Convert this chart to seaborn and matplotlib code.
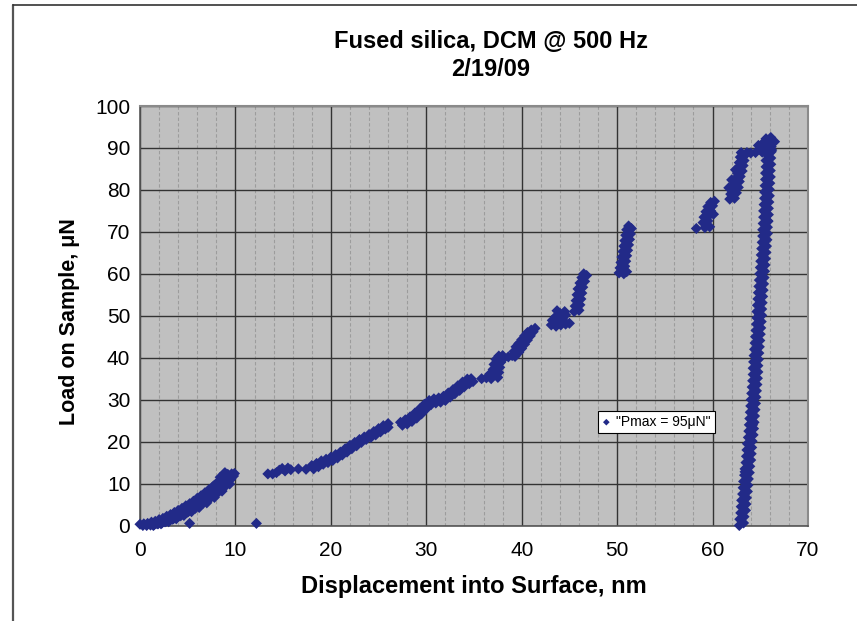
import matplotlib
matplotlib.use("Agg")
import matplotlib.pyplot as plt
from matplotlib.lines import Line2D
import seaborn as sns
import pandas as pd

# ---------------- data ----------------
title_line1 = "Fused silica, DCM @ 500 Hz"
title_line2 = "2/19/09"
x_label = "Displacement into Surface, nm"
y_label = "Load on Sample, \u03bcN"
series_label = '"Pmax = 95\u03bcN"'
x_ticks = [0, 10, 20, 30, 40, 50, 60, 70]
y_ticks = [0, 10, 20, 30, 40, 50, 60, 70, 80, 90, 100]

# loading, first ramp 0-10 nm
seg_a_x = [0.0, 0.4, 0.8, 1.2, 1.6, 2.0, 2.4, 2.8, 3.2, 3.6, 4.0, 4.4, 4.8, 5.2, 5.6, 6.0, 6.4, 6.8, 7.2, 7.6,
           8.0, 8.4, 8.8, 9.2, 9.6,
           0.3, 0.7, 1.1, 1.5, 1.9, 2.3, 2.7, 3.1, 3.5, 3.9, 4.3, 4.7, 5.1, 5.5, 5.9, 6.3, 6.7, 7.1, 7.5,
           7.9, 8.3, 8.7, 9.1, 9.5, 9.8,
           1.4, 2.2, 3.0, 3.8, 4.6, 5.4, 6.2, 7.0, 7.8, 8.6, 9.4,
           1.8, 2.6, 3.4, 4.2, 5.0, 5.8, 6.6, 7.4, 8.2, 9.0,
           8.4, 8.8, 9.0, 9.4, 9.7, 8.6, 7.8, 7.4, 6.6, 8.9, 9.9, 5.2, 12.2]
seg_a_y = [0.3, 0.4, 0.5, 0.8, 1.0, 1.4, 1.7, 2.2, 2.6, 3.1, 3.6, 4.1, 4.7, 5.2, 5.8, 6.5, 7.1, 7.8, 8.5, 9.2,
           10.0, 10.8, 11.6, 12.2, 12.3,
           0.0, 0.0, 0.1, 0.2, 0.4, 0.6, 0.9, 1.2, 1.6, 2.0, 2.4, 2.9, 3.4, 3.9, 4.5, 5.1, 5.7, 6.4, 7.1,
           7.8, 8.6, 9.4, 10.2, 11.0, 11.8,
           0.0, 0.4, 0.9, 1.6, 2.4, 3.3, 4.3, 5.4, 6.7, 8.2, 9.9,
           0.4, 0.9, 1.5, 2.3, 3.2, 4.1, 5.3, 6.6, 7.9, 9.5,
           11.5, 12.3, 11.0, 11.5, 12.0, 10.2, 9.6, 8.0, 6.4, 12.6, 12.4, 0.5, 0.5]

# short plateau 13-17.5 nm
seg_b_x = [13.4, 13.9, 14.3, 14.6, 14.9, 15.2, 15.5, 15.8, 16.6, 17.4]
seg_b_y = [12.3, 12.3, 12.6, 13.2, 13.6, 13.0, 13.7, 13.3, 13.5, 13.4]

# ramp 18-26 nm
seg_c_x = [18.0, 18.5, 19.0, 19.5, 20.0, 20.5, 21.0, 21.5, 22.0, 22.5, 23.0, 23.5, 24.0, 24.5, 25.0, 25.5, 26.0,
           18.2, 18.7, 19.2, 19.7, 20.2, 20.7, 21.2, 21.7, 22.2, 22.7, 23.2, 23.7, 24.2, 24.7, 25.2, 25.7, 26.0]
seg_c_y = [14.3, 14.8, 15.4, 15.8, 16.3, 16.9, 17.5, 18.3, 19.1, 19.8, 20.5, 21.1, 21.7, 22.4, 23.1, 23.8, 24.3,
           13.5, 14.0, 14.6, 15.0, 15.5, 16.1, 16.8, 17.5, 18.3, 19.0, 19.8, 20.5, 21.0, 21.6, 22.3, 23.0, 23.4]

# ramp 27-35 nm
seg_d_x = [27.3, 27.8, 28.3, 28.8, 29.3, 29.8, 30.3, 30.8, 31.3, 31.8, 32.3, 32.8, 33.3, 33.8, 34.3, 34.7,
           27.5, 28.0, 28.5, 29.0, 29.5, 30.0, 30.5, 31.0, 31.5, 32.0, 32.5, 33.0, 33.5, 34.0, 34.5, 34.9]
seg_d_y = [24.6, 25.2, 25.9, 26.8, 27.8, 28.9, 29.8, 30.2, 30.4, 30.8, 31.6, 32.4, 33.3, 34.2, 34.9, 35.0,
           23.9, 24.2, 24.8, 25.6, 26.6, 27.8, 28.8, 29.2, 29.4, 29.8, 30.6, 31.4, 32.2, 33.1, 33.8, 34.3]

# steps 36-47 nm
seg_e_x = [35.8, 36.3, 36.8, 37.0, 37.0, 37.1, 37.3, 37.6, 38.0, 37.5, 37.6, 37.7, 37.8, 38.1, 36.7,
           38.6, 39.0, 39.2, 39.4, 39.7, 40.0, 40.3, 40.6, 41.0, 41.4, 39.7, 40.0, 40.3, 40.6, 40.9, 41.2, 39.3,
           43.1, 43.6, 44.1, 44.6, 43.2, 43.6, 44.0, 43.7, 44.3, 44.6, 44.0, 44.5, 45.0]
seg_e_y = [35.0, 35.2, 35.0, 36.0, 37.2, 38.4, 39.6, 40.4, 40.5, 35.3, 36.5, 37.7, 38.9, 39.8, 36.2,
           40.2, 40.5, 41.5, 42.6, 43.4, 44.3, 45.2, 46.0, 46.6, 47.0, 41.3, 42.2, 43.2, 44.2, 45.2, 46.2, 40.3,
           47.8, 47.5, 47.8, 48.0, 48.9, 49.9, 50.6, 51.2, 49.2, 50.2, 48.6, 51.0, 48.2]

# steps 45-64 nm
seg_f_x = [45.5, 46.0, 45.6, 46.1, 45.7, 46.2, 45.8, 46.3, 45.9, 46.4, 46.1, 46.6, 46.3, 46.8, 46.5,
           50.2, 50.7, 51.0, 50.3, 50.8, 50.4, 50.9, 50.5, 51.0, 50.6, 51.1, 50.7, 51.2, 50.8, 51.3, 50.9,
           51.4, 51.0, 51.5, 51.2,
           58.3, 59.2, 59.7, 59.0, 59.5, 59.1, 59.6, 59.3, 59.8, 59.5, 60.0, 59.8, 60.2, 60.1,
           61.8, 62.3, 61.9, 62.5, 62.1, 62.7, 62.3, 62.8, 62.4, 62.9, 62.6, 63.1, 62.7, 63.2, 62.8, 63.3,
           62.9, 63.4, 63.0, 63.6, 62.0, 61.7, 62.4]
seg_f_y = [51.0, 51.3, 52.3, 52.6, 53.6, 54.0, 55.0, 55.4, 56.4, 56.8, 57.8, 58.2, 59.1, 59.6, 60.0,
           60.2, 60.0, 60.5, 61.4, 61.8, 62.7, 63.0, 64.0, 64.3, 65.3, 65.6, 66.6, 66.9, 67.9, 68.2, 69.2,
           69.5, 70.5, 70.8, 71.4,
           70.8, 71.0, 71.2, 72.2, 72.6, 73.5, 73.8, 74.8, 75.0, 76.0, 76.2, 77.0, 77.3, 74.2,
           77.8, 78.0, 79.0, 79.3, 80.2, 80.6, 81.4, 82.0, 82.7, 83.2, 84.0, 84.5, 85.2, 85.8, 86.5, 87.0,
           87.8, 88.3, 88.9, 88.9, 82.4, 80.5, 84.8]

# hold at peak load
seg_g_x = [64.0, 64.5, 65.0, 64.8, 65.3, 65.6, 66.1, 66.5, 65.9, 65.2, 66.2]
seg_g_y = [88.8, 88.9, 89.6, 90.6, 91.2, 92.2, 92.5, 91.5, 91.0, 89.0, 89.5]

# unloading 66 -> 63 nm
seg_h_x = [62.80, 63.25, 62.85, 63.30, 62.95, 63.45, 63.00, 63.50, 63.05, 63.55, 63.15, 63.65, 63.20, 63.70,
           63.25, 63.75, 63.35, 63.85, 63.40, 63.90, 63.50, 64.00, 63.55, 64.05, 63.60, 64.10, 63.65, 64.15,
           63.75, 64.25, 63.80, 64.30, 63.85, 64.35, 63.90, 64.40, 63.95, 64.45, 64.00, 64.50, 64.05, 64.55,
           64.10, 64.60, 64.15, 64.65, 64.20, 64.70, 64.25, 64.75, 64.25, 64.75, 64.30, 64.80, 64.35, 64.85,
           64.40, 64.90, 64.45, 64.95, 64.50, 65.00, 64.55, 65.05, 64.60, 65.10, 64.65, 65.15, 64.65, 65.15,
           64.70, 65.20, 64.75, 65.25, 64.80, 65.30, 64.85, 65.35, 64.90, 65.40, 64.95, 65.45, 65.00, 65.50,
           65.05, 65.55, 65.10, 65.60, 65.15, 65.65, 65.20, 65.70, 65.25, 65.75, 65.25, 65.75, 65.30, 65.80,
           65.35, 65.85, 65.35, 65.85, 65.40, 65.90, 65.45, 65.95, 65.45, 65.95, 65.50, 66.00, 65.55, 66.05,
           65.55, 66.05, 65.60, 66.10, 65.60, 66.10, 65.65, 66.15, 65.65, 66.15, 64.90, 65.80, 64.20, 63.40]
seg_h_y = [0.0, 0.6, 1.5, 2.1, 3.0, 3.6, 4.5, 5.1, 6.0, 6.6, 7.5, 8.1, 9.0, 9.6,
           10.5, 11.1, 12.0, 12.6, 13.5, 14.1, 15.0, 15.6, 16.5, 17.1, 18.0, 18.6, 19.5, 20.1,
           21.0, 21.6, 22.5, 23.1, 24.0, 24.6, 25.5, 26.1, 27.0, 27.6, 28.5, 29.1, 30.0, 30.6,
           31.5, 32.1, 33.0, 33.6, 34.5, 35.1, 36.0, 36.6, 37.5, 38.1, 39.0, 39.6, 40.5, 41.1,
           42.0, 42.6, 43.5, 44.1, 45.0, 45.6, 46.5, 47.1, 48.0, 48.6, 49.5, 50.1, 51.0, 51.6,
           52.5, 53.1, 54.0, 54.6, 55.5, 56.1, 57.0, 57.6, 58.5, 59.1, 60.0, 60.6, 61.5, 62.1,
           63.0, 63.6, 64.5, 65.1, 66.0, 66.6, 67.5, 68.1, 69.0, 69.6, 70.5, 71.1, 72.0, 72.6,
           73.5, 74.1, 75.0, 75.6, 76.5, 77.1, 78.0, 78.6, 79.5, 80.1, 81.0, 81.6, 82.5, 83.1,
           84.0, 84.6, 85.5, 86.1, 87.0, 87.6, 88.5, 89.1, 90.0, 90.3, 50.4, 72.5, 24.0, 12.8]

disp = seg_a_x + seg_b_x + seg_c_x + seg_d_x + seg_e_x + seg_f_x + seg_g_x + seg_h_x
load = seg_a_y + seg_b_y + seg_c_y + seg_d_y + seg_e_y + seg_f_y + seg_g_y + seg_h_y
df = pd.DataFrame({"disp": disp, "load": load})

# ---------------- style ----------------
sns.set_style("white")
plt.rcParams["font.family"] = ["Liberation Sans", "DejaVu Sans"]
plt.rcParams["text.color"] = "black"
plt.rcParams["axes.labelcolor"] = "black"
plt.rcParams["xtick.color"] = "black"
plt.rcParams["ytick.color"] = "black"

W, H = 857, 621
fig = plt.figure(figsize=(W / 100, H / 100), dpi=100)
fig.patch.set_facecolor("white")
ax = fig.add_axes([140 / W, 1 - 525.5 / H, (808 - 140) / W, (525.5 - 106) / H])
ax.set_facecolor("#c0c0c0")

sns.scatterplot(data=df, x="disp", y="load", ax=ax, marker="D", s=32,
                color="#222a88", edgecolor="none", linewidth=0, label=series_label,
                zorder=3, clip_on=False)

ax.set_xlim(0, 70)
ax.set_ylim(0, 100)
ax.set_xticks(x_ticks)
ax.set_yticks(y_ticks)
ax.set_xticks(list(range(0, 71, 2)), minor=True)
ax.set_xticklabels([str(t) for t in x_ticks])
ax.set_yticklabels([str(t) for t in y_ticks])

ax.set_axisbelow(True)
ax.grid(which="major", axis="both", color="#333333", linewidth=1.0)
ax.grid(which="minor", axis="x", color="#9c9c9c", linewidth=0.8, linestyle=(0, (3, 2)))

ax.tick_params(axis="both", which="major", direction="out", length=4, width=1,
               color="#606060", labelsize=15, labelcolor="black")
ax.tick_params(axis="x", which="major", pad=7)
ax.tick_params(axis="y", which="major", pad=3)
ax.tick_params(which="minor", length=0)

for side in ["top", "right"]:
    ax.spines[side].set_color("#8a8a8a")
    ax.spines[side].set_linewidth(1.5)
for side in ["left", "bottom"]:
    ax.spines[side].set_color("#555555")
    ax.spines[side].set_linewidth(1.2)

ax.set_xlabel("")
ax.set_ylabel("")

fig.text(474 / W, 1 - 587 / H, x_label, ha="center", va="center",
         fontsize=17, fontweight="bold", color="black")
fig.text(70 / W, 1 - 322 / H, y_label, ha="center", va="center", rotation=90,
         fontsize=15.5, fontweight="bold", color="black")
fig.text(491 / W, 1 - 42 / H, title_line1, ha="center", va="center",
         fontsize=17, fontweight="bold", color="black")
fig.text(491 / W, 1 - 70 / H, title_line2, ha="center", va="center",
         fontsize=17, fontweight="bold", color="black")

leg = ax.legend(loc="lower left", bbox_to_anchor=((598 - 140) / 668, (525.5 - 433) / 419.5),
                borderaxespad=0, frameon=True, fancybox=False, framealpha=1,
                edgecolor="black", facecolor="white", fontsize=10,
                handlelength=0.6, handletextpad=0.4, borderpad=0.3, markerscale=0.6)
leg.get_frame().set_linewidth(0.8)
for t in leg.get_texts():
    t.set_color("black")

# outer frame lines of the chart area
fig.add_artist(Line2D([12.5 / W, 12.5 / W], [0, 1 - 5 / H], transform=fig.transFigure,
                      color="#555555", linewidth=1.6))
fig.add_artist(Line2D([12.5 / W, 1], [1 - 5 / H, 1 - 5 / H], transform=fig.transFigure,
                      color="#333333", linewidth=1.2))

fig.savefig("out.png", dpi=100)
